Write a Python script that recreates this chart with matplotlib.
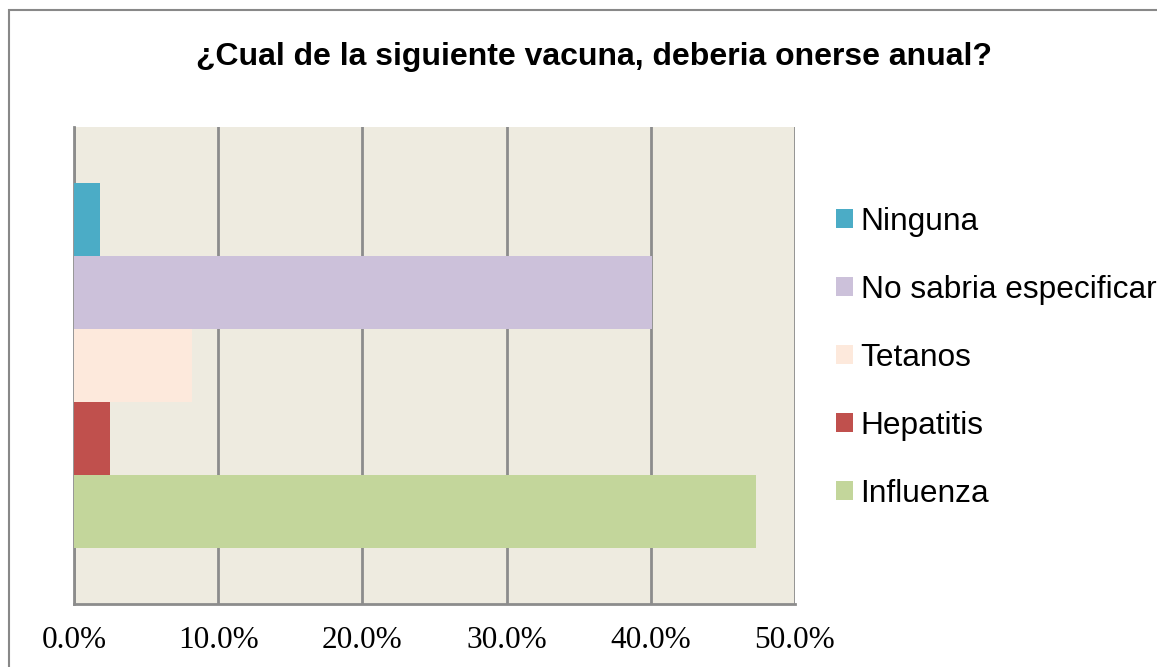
"""
Grafico de barras horizontales: vacuna que deberia ponerse anual
"""

import matplotlib.pyplot as plt
from matplotlib.patches import Rectangle

# datos (porcentajes)
series = ['Influenza', 'Hepatitis', 'Tetanos', 'No sabria especificar', 'Ninguna']
valores = [47.3, 2.5, 8.2, 40.1, 1.8]
colores = ['#C3D69B', '#C0504D', '#FDE9DC', '#CCC1DA', '#4BACC6']
ticks = [0, 10, 20, 30, 40, 50]
titulo = '¿Cual de la siguiente vacuna, deberia onerse anual?'

fig = plt.figure(figsize=(11.57, 6.67), dpi=100)

# marco exterior del grafico
fig.patches.append(Rectangle((9 / 1157, -0.05), 1.2, 1 - 10 / 667 + 0.05,
                             transform=fig.transFigure, fill=False,
                             edgecolor='#888888', linewidth=1.5))

W, H = 1157, 667
ax = fig.add_axes([74 / W, 1 - 604 / H, (795 - 74) / W, (604 - 127) / H])
ax.set_facecolor('#EEEBE0')

for i, (s, v, c) in enumerate(zip(series, valores, colores)):
    ax.barh(i, v, height=1.0, color=c, label=s, zorder=3)

ax.set_xlim(0, 50)
ax.set_ylim(-1.265, 5.265)
ax.set_xticks(ticks)
ax.set_xticklabels([f'{t:.1f}%' for t in ticks], family='Liberation Serif', fontsize=22.5)
ax.tick_params(axis='x', length=0, pad=16)
ax.set_yticks([])
ax.grid(axis='x', color='#8C8C8C', linewidth=2, zorder=1)

for lado in ['top', 'right']:
    ax.spines[lado].set_visible(False)
ax.spines['left'].set_color('#8C8C8C')
ax.spines['left'].set_linewidth(2)
ax.spines['bottom'].set_color('#8C8C8C')
ax.spines['bottom'].set_linewidth(2)

# leyenda (orden inverso, como en la imagen)
h, l = ax.get_legend_handles_labels()
fig.legend(h[::-1], l[::-1], loc='center left', bbox_to_anchor=(807 / W, 1 - 358 / H),
           frameon=False, prop={'family': 'Liberation Sans', 'size': 22.8},
           handlelength=0.54, handleheight=0.54, handletextpad=0.25,
           labelspacing=1.2)

fig.text(594 / W, 1 - 57 / H, titulo, ha='center', va='center',
         family='Liberation Sans', fontweight='bold', fontsize=23)

fig.savefig('out.png', dpi=100)
